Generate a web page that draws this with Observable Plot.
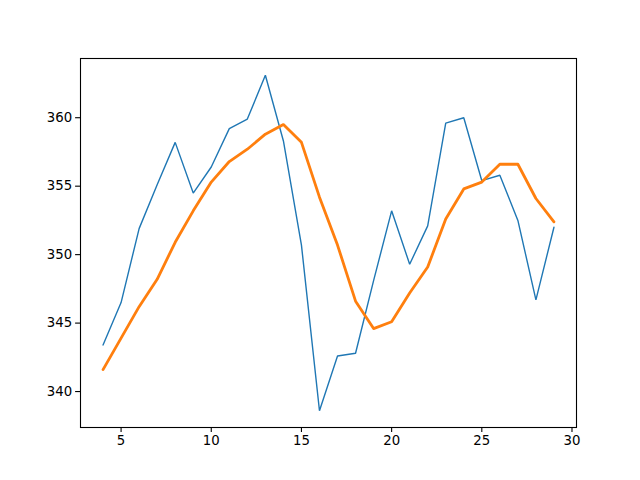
<!DOCTYPE html>
<html><head><meta charset="utf-8">
<script src="https://cdn.jsdelivr.net/npm/d3@7"></script>
<script src="https://cdn.jsdelivr.net/npm/@observablehq/plot@0.6"></script>
<style>body{margin:0;background:#fff}</style>
</head><body><div id="chart"></div>
<script>
const xs = [4,5,6,7,8,9,10,11,12,13,14,15,16,17,18,19,20,21,22,23,24,25,26,27,28,29];
const raw = [343.4,346.5,351.9,355.1,358.2,354.5,356.4,359.2,359.9,363.1,358.3,350.7,338.6,342.6,342.8,348.1,353.2,349.3,352.1,359.6,360.0,355.4,355.8,352.5,346.7,352.0];
const smooth = [341.6,343.9,346.2,348.2,350.9,353.2,355.3,356.8,357.7,358.8,359.5,358.2,354.2,350.7,346.6,344.6,345.1,347.2,349.1,352.6,354.8,355.3,356.6,356.6,354.1,352.4];
const xTicks = [5,10,15,20,25,30];
const yTicks = [340,345,350,355,360];

const rawData = xs.map((x,i)=>({x, y: raw[i]}));
const smData = xs.map((x,i)=>({x, y: smooth[i]}));

const chart = Plot.plot({
  width: 640, height: 480,
  marginLeft: 80, marginRight: 64, marginTop: 58, marginBottom: 53,
  style: {fontFamily: "DejaVu Sans", fontSize: "13.3px", color: "#000", background: "#fff"},
  x: {domain: [2.75, 30.25], ticks: xTicks, tickSize: 4.9, tickPadding: 3.5, label: null},
  y: {domain: [337.375, 364.325], ticks: yTicks, tickSize: 4.9, tickPadding: 3.5, label: null},
  marks: [
    Plot.line(rawData, {x: "x", y: "y", stroke: "#1f77b4", strokeWidth: 1.4, strokeLinejoin: "miter"}),
    Plot.line(smData, {x: "x", y: "y", stroke: "#ff7f0e", strokeWidth: 2.8, strokeLinejoin: "round"}),
    Plot.frame({stroke: "#000", strokeWidth: 1.1}),
    Plot.axisX({ticks: xTicks, tickSize: 4.9, tickPadding: 3.5, label: null, stroke: "#000", strokeWidth: 1.1, fill: "#000"}),
    Plot.axisY({ticks: yTicks, tickSize: 4.9, tickPadding: 3.5, label: null, stroke: "#000", strokeWidth: 1.1, fill: "#000"})
  ]
});
document.getElementById("chart").appendChild(chart);
</script>
</body></html>
